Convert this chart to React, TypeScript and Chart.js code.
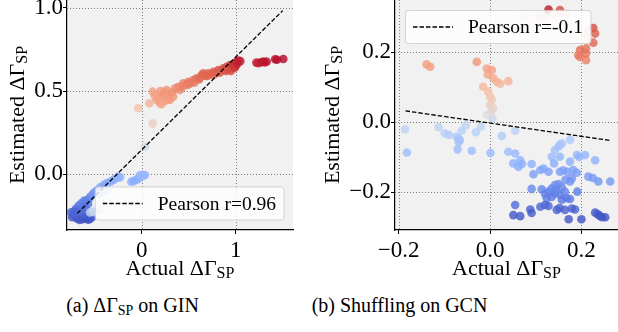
import { useEffect, useRef } from 'react';
import { Chart, registerables } from 'chart.js';
Chart.register(...registerables);

const FONT = "'Liberation Serif', 'Times New Roman', Times, serif";
Chart.defaults.font.family = FONT;
Chart.defaults.font.size = 23;
Chart.defaults.color = '#000';

type Pt = [number, number, number]; // [actual, estimated, colour value]

// (a) GIN
const ginPoints: Pt[] = [
  [-0.69, -0.267, 0.02], [-0.66, -0.277, 0.01], [-0.63, -0.272, 0.02], [-0.6, -0.268, 0.02], [-0.57, -0.275, 0.01],
  [-0.55, -0.27, 0.02], [-0.53, -0.26, 0.03], [-0.7, -0.255, 0.04], [-0.65, -0.25, 0.04],
  [-0.74, -0.26, 0.03], [-0.73, -0.245, 0.04], [-0.75, -0.23, 0.05], [-0.68, -0.245, 0.04], [-0.62, -0.24, 0.05],
  [-0.58, -0.25, 0.04], [-0.66, -0.23, 0.06], [-0.63, -0.215, 0.07],
  [-0.72, -0.24, 0.05], [-0.69, -0.228, 0.06], [-0.67, -0.215, 0.08], [-0.645, -0.2, 0.09], [-0.62, -0.185, 0.1],
  [-0.6, -0.175, 0.11], [-0.585, -0.16, 0.13], [-0.56, -0.148, 0.14], [-0.545, -0.135, 0.15], [-0.52, -0.12, 0.17],
  [-0.5, -0.11, 0.18], [-0.475, -0.098, 0.19], [-0.7, -0.21, 0.07], [-0.67, -0.19, 0.09], [-0.64, -0.175, 0.11],
  [-0.61, -0.16, 0.12], [-0.72, -0.225, 0.06], [-0.6, -0.2, 0.08], [-0.57, -0.18, 0.1],
  [-0.44, -0.08, 0.21], [-0.4, -0.065, 0.22], [-0.37, -0.055, 0.23], [-0.33, -0.045, 0.23], [-0.3, -0.035, 0.24],
  [-0.27, -0.025, 0.25], [-0.25, -0.015, 0.26], [-0.23, -0.02, 0.26],
  [-0.11, -0.046, 0.24], [-0.08, -0.042, 0.24], [-0.06, -0.035, 0.25], [-0.035, -0.03, 0.25], [-0.02, -0.008, 0.27],
  [0.005, -0.004, 0.28], [0.02, -0.01, 0.27], [0.035, -0.006, 0.28],
  [-0.52, -0.228, 0.42], [-0.48, -0.222, 0.43], [-0.44, -0.215, 0.44], [-0.55, -0.232, 0.4],
  [-0.45, -0.12, 0.36], [-0.4, -0.105, 0.38], [-0.36, -0.095, 0.4],
  [0.035, 0.165, 0.45],
  [-0.036, 0.396, 0.63], [0.117, 0.305, 0.58], [0.081, 0.426, 0.68], [0.117, 0.496, 0.74], [0.16, 0.446, 0.72],
  [0.213, 0.456, 0.74], [0.23, 0.476, 0.75], [0.266, 0.506, 0.77], [0.3, 0.446, 0.74], [0.336, 0.466, 0.75],
  [0.25, 0.44, 0.73], [0.19, 0.43, 0.72], [0.21, 0.42, 0.72], [0.28, 0.45, 0.74],
  [0.14, 0.47, 0.74], [0.18, 0.455, 0.73], [0.24, 0.49, 0.76], [0.27, 0.47, 0.75], [0.32, 0.49, 0.77], [0.2, 0.5, 0.76],
  [0.354, 0.516, 0.78], [0.39, 0.526, 0.79], [0.407, 0.506, 0.78], [0.443, 0.546, 0.81], [0.47, 0.535, 0.8],
  [0.496, 0.556, 0.82], [0.52, 0.55, 0.82], [0.55, 0.566, 0.83], [0.585, 0.576, 0.84], [0.61, 0.57, 0.84],
  [0.638, 0.596, 0.86], [0.656, 0.606, 0.87], [0.68, 0.59, 0.86], [0.709, 0.606, 0.87], [0.74, 0.6, 0.87],
  [0.762, 0.616, 0.88], [0.79, 0.61, 0.88], [0.815, 0.626, 0.89], [0.84, 0.62, 0.89], [0.868, 0.636, 0.9],
  [0.88, 0.625, 0.9], [0.904, 0.646, 0.91], [0.92, 0.63, 0.9], [0.939, 0.657, 0.92], [0.957, 0.636, 0.91],
  [0.975, 0.646, 0.92], [0.993, 0.667, 0.94], [1.0, 0.65, 0.93], [1.01, 0.675, 0.95], [1.028, 0.683, 0.97],
  [1.05, 0.68, 0.97],
  [0.43, 0.525, 0.8], [0.5, 0.54, 0.81], [0.56, 0.55, 0.82], [0.62, 0.58, 0.85], [0.7, 0.59, 0.86], [0.77, 0.6, 0.87],
  [0.83, 0.61, 0.88], [0.9, 0.62, 0.89], [0.95, 0.62, 0.9], [0.97, 0.66, 0.94], [0.99, 0.64, 0.93], [1.02, 0.665, 0.96],
  [1.22, 0.671, 0.97], [1.24, 0.668, 0.96], [1.27, 0.673, 0.97], [1.294, 0.677, 0.98], [1.31, 0.672, 0.97],
  [1.33, 0.677, 0.98], [1.42, 0.691, 0.99], [1.44, 0.688, 0.99], [1.507, 0.693, 1.0],
];
const ginFit: [number, number][] = [[-0.685, -0.237], [1.5, 0.984]];
const ginXRange: [number, number] = [-0.795, 1.61];
const ginYRange: [number, number] = [-0.337, 1.048];
const ginXTicks = [0, 1];
const ginXTickLabels = ['0', '1'];
const ginYTicks = [0, 0.5, 1.0];
const ginYTickLabels = ['0.0', '0.5', '1.0'];
const ginLegend = 'Pearson r=0.96';

// (b) Shuffling on GCN
const gcnPoints: Pt[] = [
  [-0.139, 0.165, 0.74], [-0.131, 0.158, 0.74], [-0.029, 0.172, 0.76],
  [-0.007, 0.153, 0.73], [0.004, 0.149, 0.73], [-0.005, 0.136, 0.72], [0.007, 0.125, 0.7], [0.015, 0.115, 0.68],
  [0.022, 0.11, 0.67], [0.04, 0.117, 0.68],
  [-0.015, 0.101, 0.66], [-0.004, 0.087, 0.64], [0.0, 0.073, 0.62], [0.004, 0.063, 0.6], [0.0, 0.049, 0.58],
  [0.007, 0.039, 0.56], [0.003, 0.03, 0.54], [-0.007, 0.02, 0.5], [0.005, 0.01, 0.45],
  [0.073, 0.299, 0.56], [0.106, 0.3, 0.56], [0.113, 0.306, 0.57], [0.117, 0.296, 0.56], [0.124, 0.31, 0.58],
  [0.128, 0.322, 0.97], [0.135, 0.304, 0.57], [0.153, 0.32, 0.9], [0.153, 0.309, 0.57], [0.168, 0.31, 0.56],
  [0.226, 0.269, 0.9], [0.23, 0.253, 0.88], [0.212, 0.258, 0.56], [0.214, 0.244, 0.57], [0.212, 0.229, 0.56],
  [0.226, 0.227, 0.86], [0.21, 0.21, 0.84], [0.197, 0.206, 0.85], [0.193, 0.191, 0.82], [0.197, 0.186, 0.82],
  [0.21, 0.177, 0.8], [0.21, 0.196, 0.83],
  [-0.186, -0.021, 0.4], [-0.182, -0.087, 0.3], [-0.113, -0.015, 0.4], [-0.099, -0.032, 0.37], [-0.09, -0.037, 0.36],
  [-0.073, -0.042, 0.35], [-0.069, -0.047, 0.34], [-0.066, -0.052, 0.33], [-0.069, -0.057, 0.32], [-0.071, -0.078, 0.3],
  [-0.062, -0.025, 0.38], [-0.053, -0.009, 0.4], [-0.04, -0.082, 0.3], [-0.031, -0.029, 0.38], [-0.02, -0.013, 0.4],
  [0.001, -0.088, 0.3], [0.026, -0.04, 0.36], [0.055, -0.025, 0.38],
  [0.04, -0.085, 0.3], [0.055, -0.09, 0.28], [0.051, -0.118, 0.25], [0.066, -0.109, 0.26], [0.062, -0.128, 0.24],
  [0.07, -0.12, 0.25], [0.091, -0.12, 0.25],
  [0.15, -0.07, 0.33], [0.157, -0.061, 0.34], [0.153, -0.065, 0.33], [0.175, -0.051, 0.35], [0.142, -0.08, 0.31],
  [0.135, -0.099, 0.29],
  [0.095, -0.149, 0.2], [0.11, -0.137, 0.22], [0.117, -0.133, 0.22], [0.128, -0.142, 0.21], [0.14, -0.118, 0.24],
  [0.153, -0.099, 0.27], [0.175, -0.113, 0.25], [0.19, -0.094, 0.28], [0.195, -0.1, 0.27], [0.208, -0.094, 0.28],
  [0.23, -0.109, 0.26],
  [0.153, -0.142, 0.2], [0.16, -0.138, 0.21], [0.169, -0.142, 0.2], [0.182, -0.137, 0.21], [0.19, -0.145, 0.2],
  [0.179, -0.161, 0.18], [0.165, -0.165, 0.17], [0.175, -0.17, 0.17],
  [0.215, -0.156, 0.19], [0.225, -0.16, 0.19], [0.237, -0.17, 0.18], [0.263, -0.17, 0.19],
  [0.091, -0.191, 0.14], [0.113, -0.192, 0.14], [0.128, -0.199, 0.13], [0.135, -0.19, 0.14], [0.142, -0.18, 0.15],
  [0.15, -0.177, 0.16], [0.157, -0.186, 0.15], [0.142, -0.204, 0.12], [0.153, -0.208, 0.12], [0.164, -0.199, 0.13],
  [0.168, -0.218, 0.11], [0.157, -0.222, 0.1], [0.175, -0.22, 0.11], [0.191, -0.199, 0.12], [0.124, -0.218, 0.11],
  [0.135, -0.214, 0.11], [0.145, -0.195, 0.13], [0.12, -0.205, 0.12],
  [0.055, -0.237, 0.07], [0.088, -0.25, 0.05], [0.091, -0.26, 0.04], [0.11, -0.242, 0.06], [0.12, -0.237, 0.06],
  [0.128, -0.24, 0.06], [0.146, -0.251, 0.05], [0.152, -0.246, 0.05], [0.164, -0.251, 0.05], [0.179, -0.247, 0.05],
  [0.186, -0.25, 0.05],
  [0.051, -0.266, 0.03], [0.066, -0.269, 0.03], [0.172, -0.278, 0.02], [0.2, -0.278, 0.02], [0.23, -0.259, 0.03],
  [0.236, -0.264, 0.03], [0.245, -0.272, 0.02], [0.252, -0.272, 0.02], [0.24, -0.268, 0.02],
];
const gcnFit: [number, number][] = [[-0.185, 0.032], [0.265, -0.053]];
const gcnXRange: [number, number] = [-0.208, 0.28];
const gcnYRange: [number, number] = [-0.3086, 0.349];
const gcnXTicks = [-0.2, 0, 0.2];
const gcnXTickLabels = ['\u22120.2', '0.0', '0.2'];
const gcnYTicks = [-0.2, 0, 0.2];
const gcnYTickLabels = ['\u22120.2', '0.0', '0.2'];
const gcnLegend = 'Pearson r=-0.1';

const COOLWARM: [number, number, number][] = [
  [59, 76, 192], [98, 130, 234], [141, 176, 254], [184, 208, 249], [221, 221, 221],
  [245, 196, 172], [244, 154, 123], [222, 96, 77], [180, 4, 38],
];
function coolwarm(c: number, a: number) {
  const t = Math.max(0, Math.min(1, c)) * 8;
  const i = Math.min(7, Math.floor(t));
  const f = t - i;
  const p = COOLWARM[i], q = COOLWARM[i + 1];
  const r = Math.round(p[0] + (q[0] - p[0]) * f);
  const g = Math.round(p[1] + (q[1] - p[1]) * f);
  const b = Math.round(p[2] + (q[2] - p[2]) * f);
  return `rgba(${r},${g},${b},${a})`;
}

function drawSub(ctx: CanvasRenderingContext2D, main: string, sub: string, x: number, y: number, rot: number) {
  const size = 22, subSize = 16, drop = 3;
  ctx.save();
  ctx.translate(x, y);
  ctx.rotate(rot);
  ctx.fillStyle = '#000';
  ctx.textBaseline = 'alphabetic';
  ctx.textAlign = 'left';
  ctx.font = `${size}px ${FONT}`;
  const mw = ctx.measureText(main).width;
  ctx.font = `${subSize}px ${FONT}`;
  const sw = ctx.measureText(sub).width;
  const start = -(mw + sw) / 2;
  ctx.font = `${size}px ${FONT}`;
  ctx.fillText(main, start, 0);
  ctx.font = `${subSize}px ${FONT}`;
  ctx.fillText(sub, start + mw, drop);
  ctx.restore();
}

interface Panel {
  points: Pt[];
  fit: [number, number][];
  xRange: [number, number];
  yRange: [number, number];
  xTicks: number[];
  xTickLabels: string[];
  yTicks: number[];
  yTickLabels: string[];
  legend: string;
  yAxisWidth: number;
  rightPad: number;
  xAxisHeight: number;
  yTitleOffset: number;
  legendCorner: 'lower right' | 'upper left';
}

const ginPanel: Panel = {
  points: ginPoints, fit: ginFit, xRange: ginXRange, yRange: ginYRange,
  xTicks: ginXTicks, xTickLabels: ginXTickLabels, yTicks: ginYTicks, yTickLabels: ginYTickLabels,
  legend: ginLegend, yAxisWidth: 67, rightPad: 17, xAxisHeight: 60, yTitleOffset: 43, legendCorner: 'lower right',
};
const gcnPanel: Panel = {
  points: gcnPoints, fit: gcnFit, xRange: gcnXRange, yRange: gcnYRange,
  xTicks: gcnXTicks, xTickLabels: gcnXTickLabels, yTicks: gcnYTicks, yTickLabels: gcnYTickLabels,
  legend: gcnLegend, yAxisWidth: 85, rightPad: 0, xAxisHeight: 60, yTitleOffset: 56.5, legendCorner: 'upper left',
};

function makeChart(canvas: HTMLCanvasElement, p: Panel) {
  const panelPlugin = {
    id: 'panelDecor',
    beforeDraw(chart: any) {
      const { ctx, chartArea: a } = chart;
      ctx.save();
      ctx.fillStyle = '#f1f1f1';
      ctx.fillRect(a.left, a.top, a.right - a.left, a.bottom - a.top);
      ctx.restore();
    },
    beforeDatasetsDraw(chart: any) {
      const { ctx, chartArea: a, scales } = chart;
      ctx.save();
      ctx.strokeStyle = 'rgba(105,105,105,0.85)';
      ctx.lineWidth = 1;
      ctx.setLineDash([1, 2]);
      p.xTicks.forEach((v) => {
        const x = Math.round(scales.x.getPixelForValue(v)) + 0.5;
        ctx.beginPath(); ctx.moveTo(x, a.top); ctx.lineTo(x, a.bottom); ctx.stroke();
      });
      p.yTicks.forEach((v) => {
        const y = Math.round(scales.y.getPixelForValue(v)) + 0.5;
        ctx.beginPath(); ctx.moveTo(a.left, y); ctx.lineTo(a.right, y); ctx.stroke();
      });
      ctx.restore();
    },
    afterDatasetsDraw(chart: any) {
      const { ctx, chartArea: a } = chart;
      ctx.save();
      ctx.font = `19.5px ${FONT}`;
      const tw = ctx.measureText(p.legend).width;
      const w = 62.5 + tw + 8;
      const h = 33;
      let bx: number, by: number;
      if (p.legendCorner === 'lower right') { bx = a.right - 9 - w; by = a.bottom - 10 - h; }
      else { bx = a.left + 10.5; by = a.top + 10.5; }
      ctx.beginPath();
      ctx.roundRect(bx, by, w, h, 3);
      ctx.fillStyle = 'rgba(255,255,255,0.8)';
      ctx.fill();
      ctx.strokeStyle = 'rgba(204,204,204,0.8)';
      ctx.lineWidth = 1;
      ctx.stroke();
      const cy = by + h / 2;
      ctx.beginPath();
      ctx.setLineDash([4.5, 2]);
      ctx.strokeStyle = '#000';
      ctx.lineWidth = 1.3;
      ctx.moveTo(bx + 7.5, cy); ctx.lineTo(bx + 47.5, cy);
      ctx.stroke();
      ctx.setLineDash([]);
      ctx.fillStyle = '#000';
      ctx.textBaseline = 'middle';
      ctx.textAlign = 'left';
      ctx.fillText(p.legend, bx + 62.5, cy + 1);
      ctx.restore();
    },
    afterDraw(chart: any) {
      const { ctx, chartArea: a } = chart;
      drawSub(ctx, 'Actual \u0394\u0393', 'SP', (a.left + a.right) / 2, a.bottom + 45.3, 0);
      drawSub(ctx, 'Estimated \u0394\u0393', 'SP', a.left - p.yTitleOffset, (a.top + a.bottom) / 2, -Math.PI / 2);
    },
  };

  const zeroPad = (s: any) => { s.paddingLeft = 0; s.paddingRight = 0; s.paddingTop = 0; s.paddingBottom = 0; };

  return new Chart(canvas, {
    type: 'scatter',
    data: {
      datasets: [
        {
          label: p.legend,
          data: p.fit.map(([x, y]) => ({ x, y })),
          showLine: true,
          borderColor: '#000',
          borderWidth: 1.3,
          borderDash: [4.5, 2],
          pointRadius: 0,
          fill: false,
          order: 0,
        } as any,
        {
          label: 'samples',
          data: p.points.map(([x, y, c]) => ({ x, y, c })),
          pointRadius: 4.3,
          pointBorderWidth: 0,
          pointBackgroundColor: (ctx: any) => coolwarm(ctx.raw ? ctx.raw.c : 0.5, 0.8),
          pointBorderColor: 'rgba(0,0,0,0)',
          order: 1,
        } as any,
      ],
    },
    options: {
      animation: false,
      responsive: false,
      events: [],
      font: { family: FONT, size: 23 },
      layout: { autoPadding: false, padding: { left: 0, top: 0, right: p.rightPad, bottom: 0 } } as any,
      plugins: { legend: { display: false }, tooltip: { enabled: false } },
      scales: {
        x: {
          type: 'linear',
          min: p.xRange[0],
          max: p.xRange[1],
          afterBuildTicks: (s: any) => { s.ticks = p.xTicks.map((v) => ({ value: v })); },
          afterFit: (s: any) => { s.height = p.xAxisHeight; zeroPad(s); },
          ticks: {
            callback: (_v: any, i: number) => p.xTickLabels[i],
            color: '#000', font: { family: FONT, size: 23 }, padding: 3, autoSkip: false, maxRotation: 0, minRotation: 0,
          },
          grid: { drawOnChartArea: false, drawTicks: true, tickLength: 4, tickColor: '#000', tickWidth: 1 },
          border: { display: true, color: '#000', width: 1.2 },
        },
        y: {
          type: 'linear',
          min: p.yRange[0],
          max: p.yRange[1],
          afterBuildTicks: (s: any) => { s.ticks = p.yTicks.map((v) => ({ value: v })); },
          afterFit: (s: any) => { s.width = p.yAxisWidth; zeroPad(s); },
          ticks: {
            callback: (_v: any, i: number) => p.yTickLabels[i],
            color: '#000', font: { family: FONT, size: 23 }, padding: 0, autoSkip: false,
          },
          grid: { drawOnChartArea: false, drawTicks: true, tickLength: 4, tickColor: '#000', tickWidth: 1 },
          border: { display: true, color: '#000', width: 1.2 },
        },
      },
    } as any,
    plugins: [panelPlugin],
  });
}

const captionA = ['(a) \u0394\u0393', 'SP', ' on GIN'];
const captionB = '(b) Shuffling on GCN';

export default function App() {
  const r1 = useRef<HTMLCanvasElement>(null);
  const r2 = useRef<HTMLCanvasElement>(null);
  useEffect(() => {
    const c1 = makeChart(r1.current as HTMLCanvasElement, ginPanel);
    const c2 = makeChart(r2.current as HTMLCanvasElement, gcnPanel);
    return () => { c1.destroy(); c2.destroy(); };
  }, []);
  const capStyle: any = {
    position: 'absolute', top: 295, transform: 'translateX(-50%)', whiteSpace: 'nowrap',
    fontSize: 20, lineHeight: '20px', color: '#000', fontFamily: FONT,
  };
  return (
    <div style={{ position: 'absolute', left: 0, top: 0, width: 618, height: 332, background: '#fff', overflow: 'hidden' }}>
      <canvas ref={r1} width={310} height={290} style={{ position: 'absolute', left: 0, top: 0, width: 310, height: 290 }} />
      <canvas ref={r2} width={308} height={290} style={{ position: 'absolute', left: 310, top: 0, width: 308, height: 290 }} />
      <div style={{ ...capStyle, left: 132.5 }}>
        {captionA[0]}<span style={{ fontSize: 14, position: 'relative', top: 3 }}>{captionA[1]}</span>{captionA[2]}
      </div>
      <div style={{ ...capStyle, left: 399.5 }}>{captionB}</div>
    </div>
  );
}
